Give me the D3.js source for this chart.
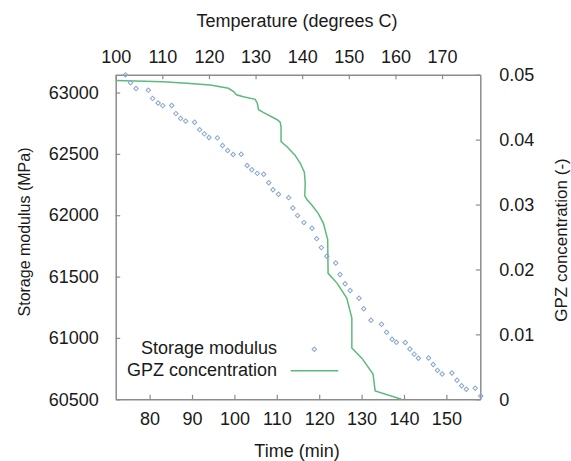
<!DOCTYPE html>
<html>
<head>
<meta charset="utf-8">
<script src="https://cdn.jsdelivr.net/npm/d3@7"></script>
<style>
    body { margin: 0; background: #fff; }
    text { font-family: "Liberation Sans", Arial, sans-serif; fill: #1a1a1a; }
    .axis path, .axis line { stroke: #8c8c8c; }
</style>
</head>
<body>
<svg id="chart" width="571" height="461"></svg>
<script>
//storage modulus points (time in min, modulus in MPa)
const modulusTime = [74.3, 75.5, 76.8, 79.7, 80.7, 82.0, 83.1, 85.2, 86.2, 87.3, 88.5, 90.6, 91.8, 92.9, 94.0, 96.0, 97.2, 98.4, 99.7, 101.6,
    103.0, 104.1, 105.4, 106.9, 108.1, 109.1, 110.4, 112.8, 113.8, 114.9, 116.4, 118.3, 119.4, 120.5, 121.8, 123.9, 124.9, 126.1, 127.3, 129.4,
    130.5, 132.2, 134.7, 135.9, 137.2, 138.2, 140.3, 141.4, 142.4, 143.4, 145.8, 146.9, 147.9, 149.0, 151.3, 152.5, 153.6, 154.7, 156.8, 158.1];
const modulusValues = [63144, 63079, 63032, 63019, 62952, 62914, 62893, 62894, 62828, 62789, 62767, 62758, 62697, 62663, 62633, 62630, 62568, 62527, 62495, 62497,
    62405, 62371, 62341, 62334, 62265, 62208, 62171, 62143, 62059, 61997, 61940, 61894, 61809, 61736, 61666, 61611, 61517, 61442, 61387, 61323,
    61238, 61144, 61111, 61046, 60989, 60965, 60963, 60910, 60868, 60835, 60837, 60784, 60736, 60706, 60714, 60655, 60610, 60582, 60590, 60527];

//gpz concentration curve
const gpzTime = [72.0, 83.2, 88.8, 94.3, 98.6, 99.8, 100.5, 102.1, 104.9, 105.4, 105.7, 106.8, 110.0, 110.8, 111.0, 111.0, 112.4, 114.3,
    115.5, 116.5, 116.7, 116.6, 117.2, 118.3, 119.8, 121.0, 122.0, 122.1, 124.2, 126.5, 127.7, 127.7, 130.1, 132.7, 133.2, 139.4];
const gpzValues = [0.0491, 0.0489, 0.0487, 0.0484, 0.0479, 0.0474, 0.0469, 0.0466, 0.0462, 0.0456, 0.0446, 0.0442, 0.0431, 0.0427, 0.0420, 0.0397, 0.0389, 0.0376,
    0.0364, 0.0350, 0.0333, 0.0313, 0.0307, 0.0299, 0.0286, 0.0271, 0.0246, 0.0194, 0.0179, 0.0156, 0.0125, 0.0079, 0.0063, 0.0039, 0.0013, 0.0];

//tick values and labels
const timeTicks = [80, 90, 100, 110, 120, 130, 140, 150];
const tempTicks = [100, 110, 120, 130, 140, 150, 160, 170];
const modulusTicks = [60500, 61000, 61500, 62000, 62500, 63000];
const gpzTicks = [0, 0.01, 0.02, 0.03, 0.04, 0.05];
const gpzTickLabels = ["0", "0.01", "0.02", "0.03", "0.04", "0.05"];

const seriesNames = ["Storage modulus", "GPZ concentration"];
const modulusColor = "#8aa7cf";
const gpzColor = "#5cbb7c";

drawChart();

function drawChart() {
    var svg = d3.select("#chart"),
        margin = {top: 74.7, right: 90.7, bottom: 61.7, left: 115.7},
        width = +svg.attr("width") - margin.left - margin.right,
        height = +svg.attr("height") - margin.top - margin.bottom;

    var x = d3.scaleLinear().domain([72, 158]).range([0, width]),
        xTop = d3.scaleLinear().domain([100, 178.2]).range([0, width]),
        y = d3.scaleLinear().domain([60500, 63145]).range([height, 0]),
        yRight = d3.scaleLinear().domain([0, 0.05]).range([height, 0]);

    var g = svg.append("g")
        .attr("transform", "translate(" + margin.left + "," + margin.top + ")");

    //axes, ticks pointing inside like gnuplot
    g.append("g")
        .attr("class", "axis")
        .attr("transform", "translate(0," + height + ")")
        .call(d3.axisBottom(x).tickValues(timeTicks).tickSizeInner(-4.5).tickSizeOuter(0).tickPadding(13));

    g.append("g")
        .attr("class", "axis")
        .call(d3.axisTop(xTop).tickValues(tempTicks).tickSizeInner(-4.5).tickSizeOuter(0).tickPadding(12));

    g.append("g")
        .attr("class", "axis")
        .call(d3.axisLeft(y).tickValues(modulusTicks).tickFormat(d3.format("d")).tickSizeInner(-4.5).tickSizeOuter(0).tickPadding(17));

    g.append("g")
        .attr("class", "axis")
        .attr("transform", "translate(" + width + ",0)")
        .call(d3.axisRight(yRight).tickValues(gpzTicks).tickFormat((d, i) => gpzTickLabels[i]).tickSizeInner(-4.5).tickSizeOuter(0).tickPadding(19));

    svg.selectAll(".axis path").attr("stroke-width", 1.5);
    svg.selectAll(".axis line").attr("stroke-width", 1.2);
    svg.selectAll(".axis text").attr("font-size", 18).attr("fill", "#1a1a1a");

    //axis titles
    svg.append("text")
        .attr("x", margin.left + width / 2 - 1).attr("y", 27)
        .attr("text-anchor", "middle").attr("font-size", 18)
        .text("Temperature (degrees C)");

    svg.append("text")
        .attr("x", margin.left + width / 2 - 1).attr("y", 457)
        .attr("text-anchor", "middle").attr("font-size", 18)
        .text("Time (min)");

    svg.append("text")
        .attr("transform", "translate(29.5," + (margin.top + height / 2 - 5) + ") rotate(-90)")
        .attr("text-anchor", "middle").attr("font-size", 16)
        .text("Storage modulus (MPa)");

    svg.append("text")
        .attr("transform", "translate(566.5," + (margin.top + height / 2 + 3) + ") rotate(-90)")
        .attr("text-anchor", "middle").attr("font-size", 17)
        .text("GPZ concentration (-)");

    //gpz line
    var line = d3.line()
        .x((d, i) => x(gpzTime[i]))
        .y(d => yRight(d));

    g.append("path")
        .datum(gpzValues)
        .attr("fill", "none")
        .attr("stroke", gpzColor)
        .attr("stroke-width", 1.5)
        .attr("d", line);

    //storage modulus diamonds
    var diamond = d3.symbol().type(d3.symbolSquare).size(10);

    g.selectAll(".pt")
        .data(modulusValues)
        .enter().append("path")
        .attr("class", "pt")
        .attr("d", diamond)
        .attr("transform", (d, i) => "translate(" + x(modulusTime[i]) + "," + y(d) + ") rotate(45)")
        .attr("fill", "none")
        .attr("stroke", modulusColor)
        .attr("stroke-width", 1);

    //legend
    var legend = svg.append("g");
    legend.append("text")
        .attr("x", 277).attr("y", 354)
        .attr("text-anchor", "end").attr("font-size", 18)
        .text(seriesNames[0]);
    legend.append("path")
        .attr("d", diamond)
        .attr("transform", "translate(314.3,349.3) rotate(45)")
        .attr("fill", "none")
        .attr("stroke", modulusColor)
        .attr("stroke-width", 1);
    legend.append("text")
        .attr("x", 277).attr("y", 376)
        .attr("text-anchor", "end").attr("font-size", 18)
        .text(seriesNames[1]);
    legend.append("line")
        .attr("x1", 290.7).attr("x2", 338.3)
        .attr("y1", 370.8).attr("y2", 370.8)
        .attr("stroke", gpzColor)
        .attr("stroke-width", 1.5);
}
</script>
</body>
</html>
